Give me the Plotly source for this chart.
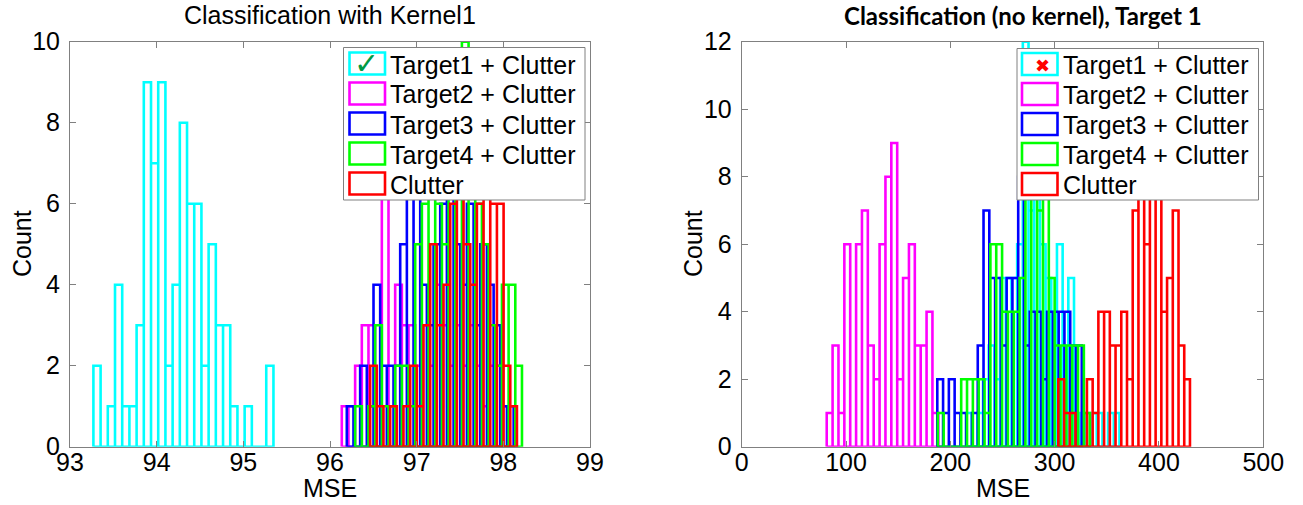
import plotly.graph_objects as go

# ---------------- data ----------------
SERIES_NAMES = ["Target1 + Clutter", "Target2 + Clutter", "Target3 + Clutter",
                "Target4 + Clutter", "Clutter"]
SERIES_COLORS = ["#00FFFF", "#FF00FF", "#0000FF", "#00FF00", "#FF0000"]

# Left panel: "Classification with Kernel1"  (bin start, bin width, counts)
left_t1_start, left_t1_width = 93.27, 0.0831
left_t1_counts = [2, 0, 1, 4, 1, 1, 3, 9, 7, 9, 2, 4, 8, 6, 6, 2, 5, 3, 3, 1, 0, 1, 0, 0, 2]
left_t2_start, left_t2_width = 96.136, 0.077
left_t2_counts = [1, 1, 2, 3, 3, 0, 7, 1, 4, 3, 3, 2, 3, 2, 4, 3, 2, 3, 2, 3, 2, 1, 2, 2, 1]
left_t3_start, left_t3_width = 96.194, 0.077
left_t3_counts = [1, 0, 2, 1, 4, 2, 2, 2, 5, 7, 7, 4, 3, 5, 6, 7, 5, 4, 6, 3, 5, 4, 3, 1, 1]
left_t4_start, left_t4_width = 96.29, 0.077
left_t4_counts = [1, 0, 1, 3, 1, 1, 2, 2, 1, 5, 6, 7, 6, 5, 8, 8, 10, 7, 6, 5, 3, 2, 4, 4, 2]
left_cl_start, left_cl_width = 96.463, 0.077
left_cl_counts = [2, 1, 0, 1, 0, 1, 2, 1, 3, 5, 3, 4, 6, 7, 5, 4, 6, 7, 6, 6, 2, 1]

# Right panel: "Classification (no kernel), Target 1"
right_t1_start, right_t1_width = 215.0, 5.45
right_t1_counts = [1, 0, 1, 2, 3, 2, 5, 5, 5, 6, 12, 7, 8, 6, 5, 4, 6, 3, 5, 1, 1, 1, 1, 1, 0, 1, 1]
right_t2_start, right_t2_width = 81.5, 5.63
right_t2_counts = [1, 3, 1, 6, 0, 6, 7, 3, 2, 6, 8, 9, 2, 5, 6, 3, 3, 4, 1]
right_t3_start, right_t3_width = 187.5, 5.54
right_t3_counts = [2, 1, 2, 1, 1, 0, 1, 3, 7, 5, 5, 3, 5, 5, 8, 3, 4, 4, 2, 4, 4, 4, 4, 3, 3]
right_t4_start, right_t4_width = 188.0, 5.6
right_t4_counts = [1, 0, 0, 0, 2, 2, 2, 2, 1, 6, 6, 4, 4, 4, 5, 8, 9, 7, 8, 5, 3, 3, 3, 3, 3, 1]
right_cl_start, right_cl_width = 303.5, 5.487
right_cl_counts = [2, 1, 1, 0, 0, 2, 1, 4, 4, 3, 3, 4, 2, 7, 8, 6, 8, 9, 4, 5, 7, 3, 2]

left_xticks = [93, 94, 95, 96, 97, 98, 99]
left_yticks = [0, 2, 4, 6, 8, 10]
right_xticks = [0, 100, 200, 300, 400, 500]
right_yticks = [0, 2, 4, 6, 8, 10, 12]

left_series = [(left_t1_start, left_t1_width, left_t1_counts),
               (left_t2_start, left_t2_width, left_t2_counts),
               (left_t3_start, left_t3_width, left_t3_counts),
               (left_t4_start, left_t4_width, left_t4_counts),
               (left_cl_start, left_cl_width, left_cl_counts)]
right_series = [(right_t1_start, right_t1_width, right_t1_counts),
                (right_t2_start, right_t2_width, right_t2_counts),
                (right_t3_start, right_t3_width, right_t3_counts),
                (right_t4_start, right_t4_width, right_t4_counts),
                (right_cl_start, right_cl_width, right_cl_counts)]


def outline(start, width, counts):
    xs, ys = [], []
    for i, c in enumerate(counts):
        lft = start + i * width
        rgt = lft + width
        xs += [lft, lft, rgt, rgt]
        ys += [0, c, c, 0]
    xs.append(start)
    ys.append(0)
    return xs, ys


W, H = 1303, 505
FONT = "Liberation Sans, Arial, sans-serif"


def px(x):
    return x / W


def py(y):
    return 1 - y / H


fig = go.Figure()
for (s, w, c), name, col in zip(left_series, SERIES_NAMES, SERIES_COLORS):
    xs, ys = outline(s, w, c)
    fig.add_trace(go.Scatter(x=xs, y=ys, mode="lines", name=name,
                             line=dict(color=col, width=2.6),
                             xaxis="x", yaxis="y", showlegend=False,
                             hoverinfo="skip"))
for (s, w, c), name, col in zip(right_series, SERIES_NAMES, SERIES_COLORS):
    xs, ys = outline(s, w, c)
    fig.add_trace(go.Scatter(x=xs, y=ys, mode="lines", name=name,
                             line=dict(color=col, width=2.6),
                             xaxis="x2", yaxis="y2", showlegend=False,
                             hoverinfo="skip"))

axis_common = dict(showgrid=False, zeroline=False, showline=True, mirror="ticks",
                   linecolor="#808080", linewidth=1, ticks="inside", ticklen=6,
                   tickcolor="#808080", automargin=False,
                   tickfont=dict(family=FONT, size=25, color="black"))

fig.update_layout(
    width=W, height=H, margin=dict(l=0, r=0, t=0, b=0),
    paper_bgcolor="white", plot_bgcolor="white", showlegend=False,
    xaxis=dict(domain=[px(70), px(590)], range=[93, 99], tickvals=left_xticks,
               anchor="y", ticklabelstandoff=-7, **axis_common),
    yaxis=dict(domain=[py(446.7), py(41.7)], range=[0, 10], tickvals=left_yticks,
               anchor="x", ticklabelstandoff=4, **axis_common),
    xaxis2=dict(domain=[px(741.7), px(1263.3)], range=[0, 500], tickvals=right_xticks,
                anchor="y2", ticklabelstandoff=-7, **axis_common),
    yaxis2=dict(domain=[py(446.7), py(41.7)], range=[0, 12], tickvals=right_yticks,
                anchor="x2", ticklabelstandoff=4, **axis_common),
)

shapes = []
annotations = []


def add_legend(box, rect_x, text_x, row0, mark, mark_pos, mark_color, mark_size):
    bx0, bx1, by0, by1 = box
    shapes.append(dict(type="rect", xref="paper", yref="paper", layer="above",
                       x0=px(bx0), x1=px(bx1), y0=py(by1), y1=py(by0),
                       fillcolor="white", line=dict(color="#808080", width=1)))
    for k, (name, col) in enumerate(zip(SERIES_NAMES, SERIES_COLORS)):
        cy = row0 + 30 * k
        shapes.append(dict(type="rect", xref="paper", yref="paper", layer="above",
                           x0=px(rect_x[0]), x1=px(rect_x[1]),
                           y0=py(cy + 11), y1=py(cy - 11),
                           fillcolor="rgba(0,0,0,0)", line=dict(color=col, width=2.6)))
        annotations.append(dict(text=name, xref="paper", yref="paper", x=px(text_x), y=py(cy + 1),
                                xanchor="left", yanchor="middle", showarrow=False,
                                font=dict(family=FONT, size=25, color="black")))
    annotations.append(dict(text=mark, xref="paper", yref="paper", x=px(mark_pos[0]), y=py(mark_pos[1]),
                            xanchor="center", yanchor="middle", showarrow=False,
                            font=dict(family="DejaVu Sans", size=mark_size, color=mark_color)))


add_legend((343.5, 585, 47.5, 200), (349.5, 385), 388, 63.5, "✓", (366, 63), "#009A44", 30)
add_legend((1017, 1258.5, 48.5, 200), (1022, 1057.5), 1061, 64, "✖", (1042, 65), "#FF0000", 18)

# subplot titles
annotations.append(dict(text="Classification with Kernel1", xref="paper", yref="paper",
                        x=px(330), y=py(15), xanchor="center", yanchor="middle", showarrow=False,
                        font=dict(family=FONT, size=25, color="black")))
annotations.append(dict(text="<b>Classification (no kernel), Target 1</b>", xref="paper", yref="paper",
                        x=px(842), y=py(15), xanchor="left", yanchor="middle", showarrow=False,
                        font=dict(family="Lato", size=24, color="black")))
# axis titles
for cx in (330, 1002.5):
    annotations.append(dict(text="MSE", xref="paper", yref="paper", x=px(cx), y=py(488),
                            xanchor="center", yanchor="middle", showarrow=False,
                            font=dict(family=FONT, size=25, color="black")))
for cx in (22, 693):
    annotations.append(dict(text="Count", xref="paper", yref="paper", x=px(cx), y=py(244),
                            xanchor="center", yanchor="middle", showarrow=False, textangle=-90,
                            font=dict(family=FONT, size=25, color="black")))

fig.update_layout(shapes=shapes, annotations=annotations)
fig.write_html("out.html", config={"displayModeBar": False},
               post_script="document.body.style.margin='0px';document.body.style.overflow='hidden';")
